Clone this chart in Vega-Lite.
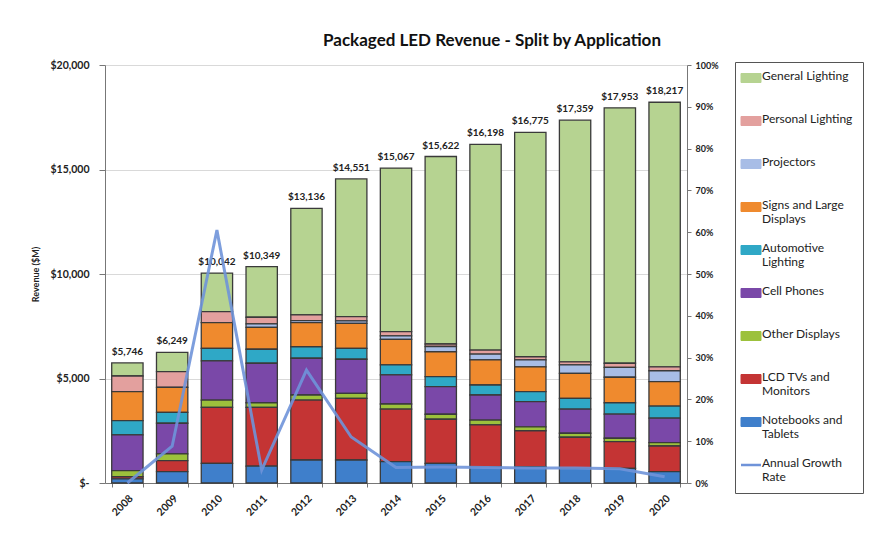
{
  "$schema": "https://vega.github.io/schema/vega-lite/v6.json",
  "autosize": {"type": "none"},
  "width": 582,
  "height": 418,
  "padding": {"left": 105, "top": 65, "right": 195, "bottom": 57},
  "background": "white",
  "config": {
    "font": "Lato",
    "view": {"stroke": null},
    "axis": {"labelFontWeight": "bold", "labelColor": "#222", "domainColor": "#777", "tickColor": "#777", "titleColor": "#222"}
  },
  "title": {
    "text": "Packaged LED Revenue - Split by Application",
    "fontSize": 17,
    "fontWeight": "bold",
    "color": "#111",
    "anchor": "middle",
    "dx": 96,
    "offset": 10
  },
  "datasets": {
    "rev": [
      {"year": "2008", "General Lighting": 626, "Personal Lighting": 750, "Projectors": 0, "Signs and Large Displays": 1390, "Automotive Lighting": 680, "Cell Phones": 1710, "Other Displays": 290, "LCD TVs and Monitors": 100, "Notebooks and Tablets": 200},
      {"year": "2009", "General Lighting": 919, "Personal Lighting": 750, "Projectors": 0, "Signs and Large Displays": 1200, "Automotive Lighting": 520, "Cell Phones": 1470, "Other Displays": 320, "LCD TVs and Monitors": 530, "Notebooks and Tablets": 540},
      {"year": "2010", "General Lighting": 1842, "Personal Lighting": 530, "Projectors": 0, "Signs and Large Displays": 1230, "Automotive Lighting": 600, "Cell Phones": 1870, "Other Displays": 350, "LCD TVs and Monitors": 2680, "Notebooks and Tablets": 940},
      {"year": "2011", "General Lighting": 2419, "Personal Lighting": 320, "Projectors": 160, "Signs and Large Displays": 1050, "Automotive Lighting": 670, "Cell Phones": 1890, "Other Displays": 220, "LCD TVs and Monitors": 2810, "Notebooks and Tablets": 810},
      {"year": "2012", "General Lighting": 5096, "Personal Lighting": 270, "Projectors": 100, "Signs and Large Displays": 1150, "Automotive Lighting": 550, "Cell Phones": 1760, "Other Displays": 240, "LCD TVs and Monitors": 2870, "Notebooks and Tablets": 1100},
      {"year": "2013", "General Lighting": 6591, "Personal Lighting": 200, "Projectors": 120, "Signs and Large Displays": 1200, "Automotive Lighting": 520, "Cell Phones": 1630, "Other Displays": 240, "LCD TVs and Monitors": 2950, "Notebooks and Tablets": 1100},
      {"year": "2014", "General Lighting": 7827, "Personal Lighting": 200, "Projectors": 170, "Signs and Large Displays": 1220, "Automotive Lighting": 480, "Cell Phones": 1390, "Other Displays": 250, "LCD TVs and Monitors": 2510, "Notebooks and Tablets": 1020},
      {"year": "2015", "General Lighting": 8972, "Personal Lighting": 120, "Projectors": 250, "Signs and Large Displays": 1190, "Automotive Lighting": 480, "Cell Phones": 1320, "Other Displays": 240, "LCD TVs and Monitors": 2110, "Notebooks and Tablets": 940},
      {"year": "2016", "General Lighting": 9838, "Personal Lighting": 190, "Projectors": 280, "Signs and Large Displays": 1200, "Automotive Lighting": 480, "Cell Phones": 1200, "Other Displays": 230, "LCD TVs and Monitors": 2000, "Notebooks and Tablets": 780},
      {"year": "2017", "General Lighting": 10735, "Personal Lighting": 150, "Projectors": 330, "Signs and Large Displays": 1190, "Automotive Lighting": 480, "Cell Phones": 1200, "Other Displays": 190, "LCD TVs and Monitors": 1720, "Notebooks and Tablets": 780},
      {"year": "2018", "General Lighting": 11559, "Personal Lighting": 150, "Projectors": 400, "Signs and Large Displays": 1200, "Automotive Lighting": 520, "Cell Phones": 1150, "Other Displays": 190, "LCD TVs and Monitors": 1490, "Notebooks and Tablets": 700},
      {"year": "2019", "General Lighting": 12223, "Personal Lighting": 200, "Projectors": 470, "Signs and Large Displays": 1220, "Automotive Lighting": 540, "Cell Phones": 1160, "Other Displays": 160, "LCD TVs and Monitors": 1280, "Notebooks and Tablets": 700},
      {"year": "2020", "General Lighting": 12657, "Personal Lighting": 190, "Projectors": 520, "Signs and Large Displays": 1170, "Automotive Lighting": 580, "Cell Phones": 1170, "Other Displays": 160, "LCD TVs and Monitors": 1230, "Notebooks and Tablets": 540}
    ],
    "growth": [
      {"year": "2008", "series": "Annual Growth Rate", "rate": 0.0},
      {"year": "2009", "series": "Annual Growth Rate", "rate": 0.088},
      {"year": "2010", "series": "Annual Growth Rate", "rate": 0.605},
      {"year": "2011", "series": "Annual Growth Rate", "rate": 0.031},
      {"year": "2012", "series": "Annual Growth Rate", "rate": 0.27},
      {"year": "2013", "series": "Annual Growth Rate", "rate": 0.11},
      {"year": "2014", "series": "Annual Growth Rate", "rate": 0.037},
      {"year": "2015", "series": "Annual Growth Rate", "rate": 0.038},
      {"year": "2016", "series": "Annual Growth Rate", "rate": 0.037},
      {"year": "2017", "series": "Annual Growth Rate", "rate": 0.036},
      {"year": "2018", "series": "Annual Growth Rate", "rate": 0.036},
      {"year": "2019", "series": "Annual Growth Rate", "rate": 0.034},
      {"year": "2020", "series": "Annual Growth Rate", "rate": 0.015}
    ]
  },
  "encoding": {
    "x": {
      "field": "year", "type": "ordinal",
      "scale": {"paddingInner": 0.3, "paddingOuter": 0.15},
      "axis": {"title": null, "labelAngle": -45, "labelFontSize": 10.5, "labelPadding": 6, "tickBand": "extent", "tickSize": 4, "domainColor": "#777"}
    }
  },
  "layer": [
    {
      "data": {"name": "rev"},
      "transform": [
        {"fold": ["General Lighting", "Personal Lighting", "Projectors", "Signs and Large Displays", "Automotive Lighting", "Cell Phones", "Other Displays", "LCD TVs and Monitors", "Notebooks and Tablets"], "as": ["category", "value"]}
      ],
      "layer": [
        {
          "transform": [
            {"calculate": "indexof(['General Lighting', 'Personal Lighting', 'Projectors', 'Signs and Large Displays', 'Automotive Lighting', 'Cell Phones', 'Other Displays', 'LCD TVs and Monitors', 'Notebooks and Tablets'], datum.category)", "as": "stackRank"}
          ],
          "mark": {"type": "bar", "stroke": "#3a3a3a", "strokeWidth": 1.3},
          "encoding": {
            "y": {
              "field": "value", "type": "quantitative", "stack": "zero",
              "scale": {"domain": [0, 20000], "nice": false},
              "axis": {
                "title": "Revenue ($M)", "titleFontSize": 9, "titleFontWeight": "bold", "titlePadding": 10,
                "values": [0, 5000, 10000, 15000, 20000],
                "labelExpr": "datum.value === 0 ? '$-' : '$' + format(datum.value, ',')",
                "labelOverlap": false,
                "labelFontSize": 10.5, "labelPadding": 10,
                "tickSize": 6,
                "gridColor": "#d9d9d9",
                "domainColor": "#777"
              }
            },
            "order": {"field": "stackRank", "type": "quantitative", "sort": "descending"},
            "color": {
              "field": "category", "type": "nominal",
              "scale": {
                "domain": ["General Lighting", "Personal Lighting", "Projectors", "Signs and Large Displays", "Automotive Lighting", "Cell Phones", "Other Displays", "LCD TVs and Monitors", "Notebooks and Tablets", "Annual Growth Rate"],
                "range": ["#b6d391", "#e3a09e", "#a8bde6", "#ef8a2e", "#2fa8c6", "#7a48a8", "#9cc13c", "#c43434", "#3f7fcb", "#6f93d9"]
              },
              "legend": {
                "title": null,
                "orient": "none", "legendX": 630, "legendY": -3,
                "strokeColor": "#555", "fillColor": "white", "padding": 10,
                "labelFontSize": 12, "labelColor": "#222", "labelLimit": 200,
                "gridAlign": "all", "rowPadding": 17,
                "symbolSize": 400,
                "symbolType": "M-1,-0.45H1V0.45H-1Z",
                "symbolStrokeColor": "#444", "symbolStrokeWidth": 1,
                "labelExpr": "datum.label === 'Signs and Large Displays' ? ['Signs and Large', 'Displays'] : datum.label === 'Automotive Lighting' ? ['Automotive', 'Lighting'] : datum.label === 'LCD TVs and Monitors' ? ['LCD TVs and', 'Monitors'] : datum.label === 'Notebooks and Tablets' ? ['Notebooks and', 'Tablets'] : datum.label === 'Annual Growth Rate' ? ['Annual Growth', 'Rate'] : datum.label",
                "labelBaseline": "top", "labelOffset": 5,
                "encode": {
                  "labels": {
                    "update": {"dy": {"value": -7}}
                  },
                  "symbols": {
                    "enter": {
                      "shape": {"signal": "datum.value === 'Annual Growth Rate' ? 'stroke' : 'M-1,-0.45H1V0.45H-1Z'"}
                    },
                    "update": {
                      "shape": {"signal": "datum.value === 'Annual Growth Rate' ? 'stroke' : 'M-1,-0.45H1V0.45H-1Z'"},
                      "stroke": {"signal": "datum.value === 'Annual Growth Rate' ? '#6f93d9' : '#444'"},
                      "strokeWidth": {"signal": "datum.value === 'Annual Growth Rate' ? 2.5 : 1"}
                    }
                  }
                }
              }
            }
          }
        },
        {
          "transform": [
            {"aggregate": [{"op": "sum", "field": "value", "as": "total"}], "groupby": ["year"]}
          ],
          "mark": {"type": "text", "baseline": "bottom", "dy": -6, "fontSize": 10, "fontWeight": "bold", "color": "#222"},
          "encoding": {
            "y": {"field": "total", "type": "quantitative"},
            "text": {"field": "total", "type": "quantitative", "format": "$,.0f"}
          }
        }
      ]
    },
    {
      "data": {"name": "growth"},
      "mark": {"type": "line", "strokeWidth": 3, "opacity": 0.9},
      "encoding": {
        "y": {
          "field": "rate", "type": "quantitative",
          "scale": {"domain": [0, 1], "nice": false},
          "axis": {"orient": "right", "title": null, "format": ".0%", "values": [0,0.1,0.2,0.3,0.4,0.5,0.6,0.7,0.8,0.9,1], "labelFontSize": 9, "labelPadding": 4, "tickSize": 4, "grid": false, "domainColor": "#777"}
        },
        "color": {"field": "series", "type": "nominal"}
      }
    }
  ],
  "resolve": {"scale": {"y": "independent"}}
}
